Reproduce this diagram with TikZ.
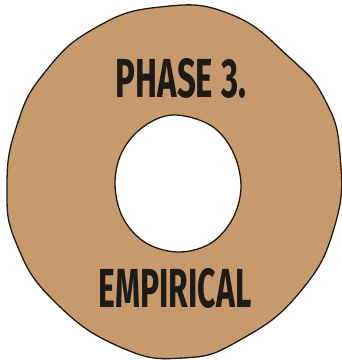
\documentclass[tikz,border=0pt]{standalone}
\usepackage{fontspec}
\setmainfont{Fira Sans}
\definecolor{tan}{HTML}{C69A6C}
\definecolor{ink}{HTML}{1E1A16}
\tikzset{
  ring/.style={fill=tan, draw=ink, line width=1.3pt, even odd rule},
  label/.style={text=ink, font=\bfseries\fontsize{55}{57}\selectfont, inner sep=0pt, anchor=center}
}
\begin{document}
\begin{tikzpicture}[x=1pt,y=-1pt]
\useasboundingbox (0,0) rectangle (342,360);
\fill[white] (0,0) rectangle (342,360);
\path[ring] plot[smooth cycle, tension=0.8] coordinates {
  (160,7) (230,14) (290,58) (325,100) (340,155) (335,225) (300,292) (240,340)
  (183,358) (120,347) (55,302) (17,245) (7,187) (17,125) (45,72) (95,28)}
  plot[smooth cycle, tension=0.6] coordinates {
  (241,185) (232,150) (210,125) (173,115) (143,127) (122,152) (115,184)
  (123,218) (146,243) (179,252) (211,243) (233,218)};
\node[label] (phase) at (181,78) {\scalebox{0.6}[1]{PHASE 3.}};
\node[label] (emp) at (175,288) {\scalebox{0.58}[1]{EMPIRICAL}};
\end{tikzpicture}
\end{document}
